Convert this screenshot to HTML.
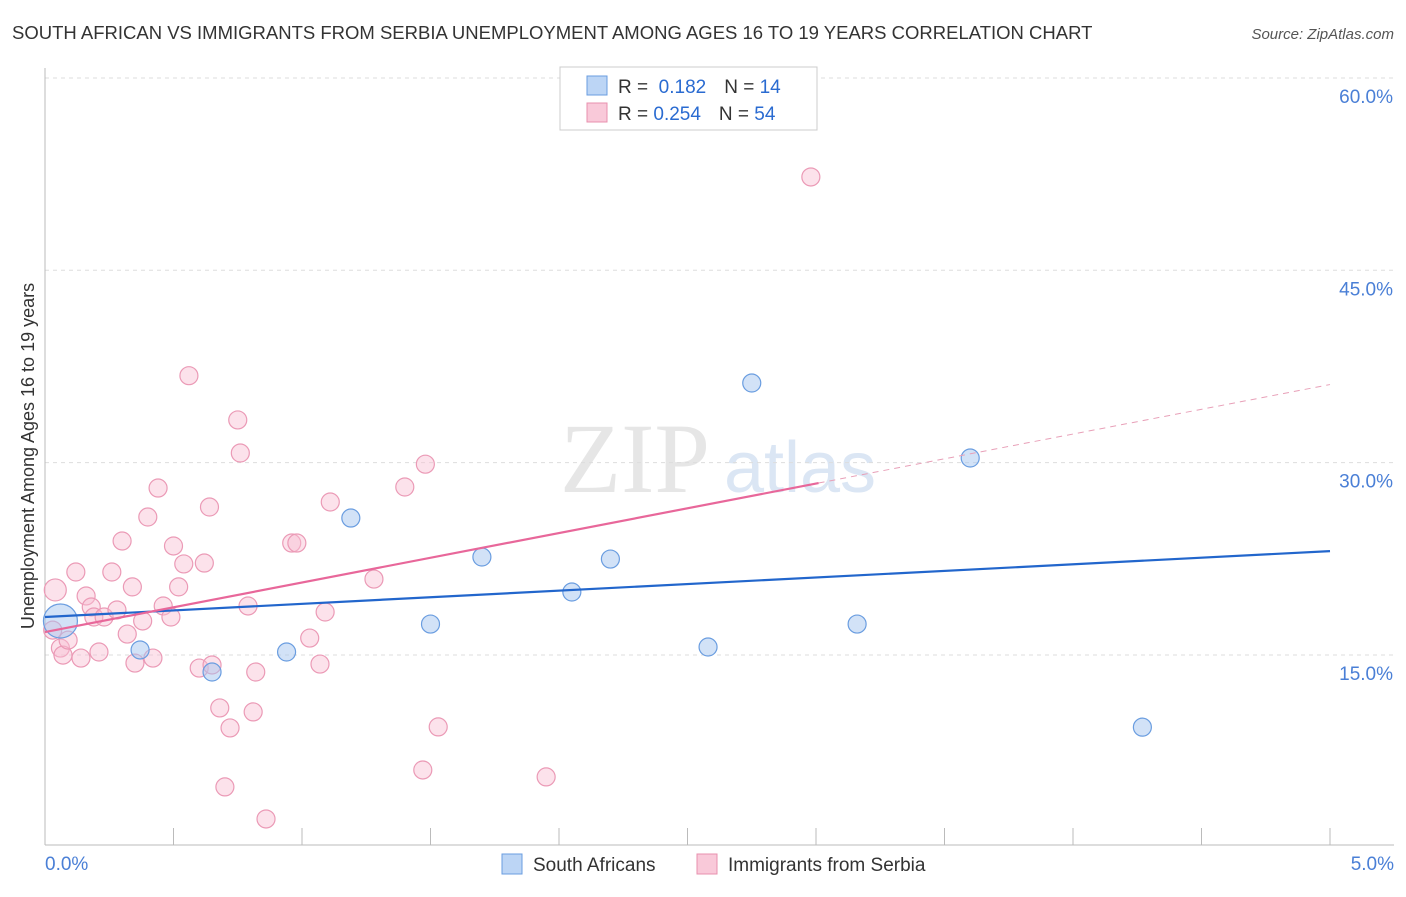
<!DOCTYPE html>
<html><head><meta charset="utf-8"><style>
body{margin:0;background:#fff;font-family:"Liberation Sans",sans-serif;}
</style></head><body>
<svg width="1406" height="892" xmlns="http://www.w3.org/2000/svg" id="svg">
<text x="12" y="39" font-size="18.5" fill="#333">SOUTH AFRICAN VS IMMIGRANTS FROM SERBIA UNEMPLOYMENT AMONG AGES 16 TO 19 YEARS CORRELATION CHART</text>
<text x="1394" y="39" font-size="15" fill="#555" font-style="italic" text-anchor="end">Source: ZipAtlas.com</text>
<text x="635" y="492" font-size="100" fill="#e6e6e6" font-family="Liberation Serif,serif" text-anchor="middle">ZIP</text>
<text x="800" y="492" font-size="72" fill="#dbe6f4" text-anchor="middle">atlas</text>
<text transform="translate(34,456) rotate(-90)" font-size="18" fill="#333" text-anchor="middle">Unemployment Among Ages 16 to 19 years</text>
<g id="grid"></g><g id="marks"></g>
<g>
<rect x="560" y="67" width="257" height="63" fill="#fff" stroke="#ccc"/>
<rect x="587" y="76" width="20" height="19" fill="#bcd5f5" stroke="#6a9de0"/>
<rect x="587" y="103" width="20" height="19" fill="#f9c9d9" stroke="#e890ae"/>
<text x="618" y="93" font-size="19" fill="#333">R = <tspan fill="#2a6bd1">&#160;0.182</tspan><tspan dx="18">N = </tspan><tspan fill="#2a6bd1"> 14</tspan></text>
<text x="618" y="120" font-size="19" fill="#333">R = <tspan fill="#2a6bd1">0.254</tspan><tspan dx="18">N = </tspan><tspan fill="#2a6bd1">54</tspan></text>
</g>
<g>
<rect x="502" y="854" width="20" height="20" fill="#bcd5f5" stroke="#6a9de0"/>
<text x="533" y="871" font-size="19" fill="#333">South Africans</text>
<rect x="697" y="854" width="20" height="20" fill="#f9c9d9" stroke="#e890ae"/>
<text x="728" y="871" font-size="19" fill="#333">Immigrants from Serbia</text>
</g>
<text x="45" y="870" font-size="19" fill="#4a7fd6">0.0%</text>
<text x="1394" y="870" font-size="19" fill="#4a7fd6" text-anchor="end">5.0%</text>
</svg>
<script>
const yTicks=[15,30,45,60];
const blueX=[0.06,0.37,0.65,0.94,1.19,1.50,1.70,2.05,2.20,2.58,2.75,3.16,3.60,4.27];
const blueY=[17.65,15.39,13.67,15.23,25.68,17.41,22.64,19.91,22.48,15.62,36.21,17.41,30.36,9.37];
const pinkX=[0.04,0.03,0.06,0.07,0.09,0.12,0.14,0.16,0.18,0.19,0.21,0.23,0.26,0.28,0.30,0.32,0.34,0.35,0.38,0.40,0.42,0.44,0.46,0.49,0.50,0.52,0.54,0.56,0.60,0.62,0.64,0.65,0.68,0.70,0.72,0.75,0.76,0.79,0.81,0.82,0.86,0.96,0.98,1.03,1.07,1.09,1.11,1.28,1.40,1.47,1.48,1.53,1.95,2.98];
const pinkY=[20.07,16.94,15.54,14.99,16.16,21.47,14.76,19.60,18.74,17.96,15.23,17.96,21.47,18.51,23.89,16.63,20.31,14.37,17.65,25.76,14.76,28.02,18.82,17.96,23.50,20.31,22.10,36.78,13.98,22.17,26.54,14.22,10.87,4.71,9.31,33.33,30.75,18.82,10.56,13.67,2.21,23.73,23.73,16.32,14.29,18.35,26.93,20.92,28.10,6.03,29.88,9.39,5.49,52.28];
const blueTrend=[17.96,23.1];
const pinkTrend=[16.79,3.86];
const X=v=>45+v*257, Y=v=>847.3-v*12.822;
const NS='http://www.w3.org/2000/svg';
function mk(t,a,p){const e=document.createElementNS(NS,t);for(const k in a)e.setAttribute(k,a[k]);p.appendChild(e);return e;}
const g=document.getElementById('grid'), m=document.getElementById('marks');
yTicks.forEach(t=>{
 const l=mk('line',{x1:45,x2:1394,y1:Y(t),y2:Y(t),stroke:'#ddd','stroke-dasharray':'4,4'},g);
 
 
 const tx=mk('text',{x:1393,y:Y(t)+25,'font-size':19,fill:'#4a7fd6','text-anchor':'end'},g);
 tx.textContent=t.toFixed(1)+'%';
 
 
});
mk('line',{x1:45,x2:45,y1:68,y2:845,stroke:'#bbb'},g);
mk('line',{x1:45,x2:1394,y1:845,y2:845,stroke:'#bbb'},g);
for(let i=1;i<=10;i++){const t=mk('line',{x1:X(i*0.5),x2:X(i*0.5),y1:828,y2:845,stroke:'#bbb'},g);
 
 }
pinkX.forEach((v,i)=>{const c=mk('circle',{cx:X(v),cy:Y(pinkY[i]),r:i==0?11:9,fill:'rgba(248,190,210,0.45)',stroke:'#eb9ab6','stroke-width':1.2},m);
 
 });
blueX.forEach((v,i)=>{const c=mk('circle',{cx:X(v),cy:Y(blueY[i]),r:i==0?17:9,fill:'rgba(165,198,240,0.5)',stroke:'#6a9de0','stroke-width':1.2},m);
 
 });
const bl=mk('line',{x1:X(0),y1:Y(blueTrend[0]),x2:X(5),y2:Y(blueTrend[1]),stroke:'#2266cc','stroke-width':2.2},m);


const pe=3.01;
const pl=mk('line',{x1:X(0),y1:Y(pinkTrend[0]),x2:X(pe),y2:Y(pinkTrend[0]+pinkTrend[1]*pe),stroke:'#e8679a','stroke-width':2.2},m);


const pd=mk('line',{x1:X(pe),y1:Y(pinkTrend[0]+pinkTrend[1]*pe),x2:X(5),y2:Y(pinkTrend[0]+pinkTrend[1]*5),stroke:'#e8a0b8','stroke-width':1,'stroke-dasharray':'6,5'},m);


</script>
</body></html>
